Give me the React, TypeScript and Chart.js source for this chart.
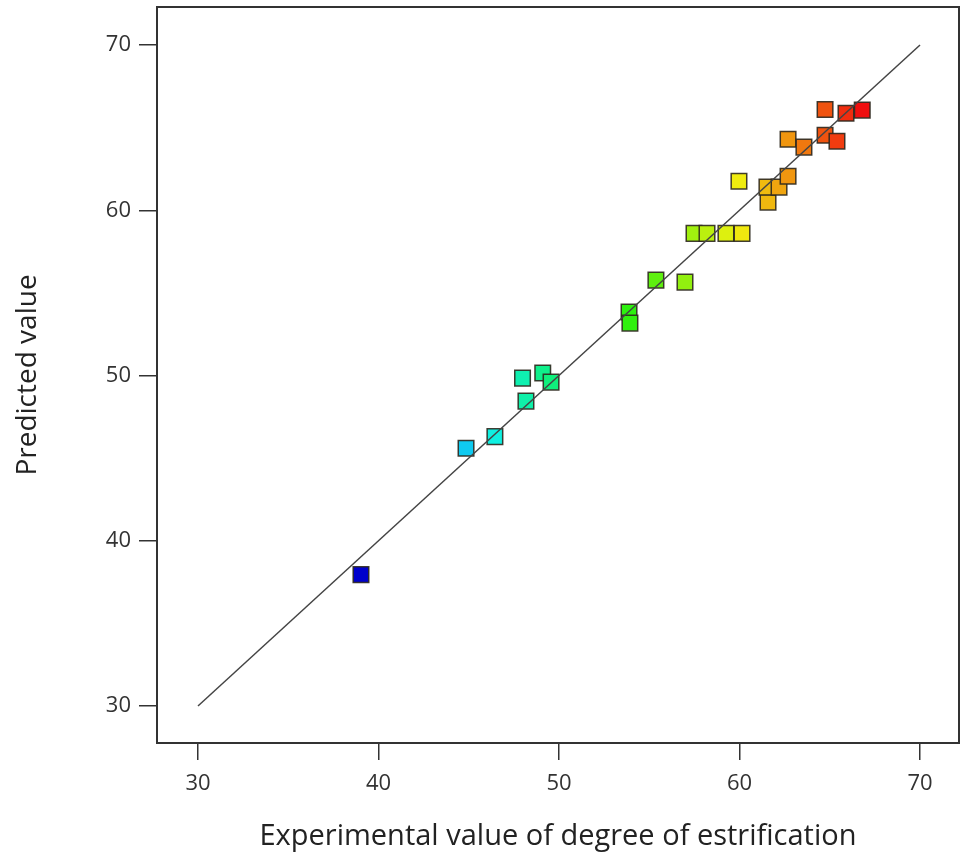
import React, { useEffect, useRef } from "react";
import { Chart, registerables } from "chart.js";

Chart.register(...registerables);

// Experimental (actual) values and model-predicted values
const experimental = [
  39.03, 44.85, 46.45, 47.98, 49.1, 49.56, 48.17, 53.88, 53.93, 55.37, 56.98,
  57.48, 58.2, 59.25, 60.14, 59.97, 61.58, 61.52, 62.19, 62.69, 62.69, 63.57,
  64.74, 65.4, 64.74, 65.9, 66.8,
];
const predicted = [
  37.95, 45.6, 46.3, 49.84, 50.15, 49.6, 48.45, 53.84, 53.17, 55.77, 55.65,
  58.6, 58.6, 58.6, 58.6, 61.76, 60.49, 61.4, 61.4, 62.06, 64.3, 63.82,
  64.54, 64.18, 66.1, 65.87, 66.06,
];
const idealLine = [30, 70];
const tickValues = [30, 40, 50, 60, 70];

const xTitle = "Experimental value of degree of estrification";
const yTitle = "Predicted value";

function colorFor(v: number, lo: number, hi: number): string {
  const t = Math.max(0, Math.min(1, (v - lo) / (hi - lo)));
  const hue = 240 * (1 - t);
  const light = t < 0.05 ? 40 : 50;
  const sat = t < 0.05 ? 100 : 88;
  return `hsl(${hue.toFixed(0)}, ${sat}%, ${light}%)`;
}

function zeroPadding(s: any) {
  s.paddingTop = 0;
  s.paddingBottom = 0;
  s.paddingLeft = 0;
  s.paddingRight = 0;
}

export default function App() {
  const canvasRef = useRef<HTMLCanvasElement | null>(null);

  useEffect(() => {
    if (!canvasRef.current) return;
    const lo = Math.min(...experimental);
    const hi = Math.max(...experimental);
    const points = experimental.map((x, i) => ({ x, y: predicted[i] }));
    const colors = experimental.map((x) => colorFor(x, lo, hi));

    const frame = {
      id: "frame",
      afterDatasetsDraw(chart: any) {
        const { ctx, chartArea } = chart;
        ctx.save();
        ctx.strokeStyle = "#333";
        ctx.lineWidth = 2;
        ctx.strokeRect(
          chartArea.left,
          chartArea.top,
          chartArea.right - chartArea.left,
          chartArea.bottom - chartArea.top
        );
        ctx.restore();
      },
    };

    const chart = new Chart(canvasRef.current, {
      type: "scatter",
      data: {
        datasets: [
          {
            type: "line",
            data: idealLine.map((v) => ({ x: v, y: v })),
            borderColor: "#444",
            borderWidth: 1.5,
            pointRadius: 0,
            order: 1,
          } as any,
          {
            type: "scatter",
            data: points,
            backgroundColor: colors,
            borderColor: "rgba(45,40,30,0.9)",
            borderWidth: 1.5,
            pointStyle: "rect",
            pointRadius: 11,
            order: 2,
          },
        ],
      },
      options: {
        animation: false,
        responsive: false,
        layout: {
          autoPadding: false,
          padding: { top: 7, right: 6, left: 0, bottom: 0 },
        },
        plugins: { legend: { display: false }, tooltip: { enabled: false } },
        scales: {
          x: {
            type: "linear",
            min: 27.73,
            max: 72.16,
            afterBuildTicks: (s: any) => {
              s.ticks = tickValues.map((v) => ({ value: v }));
            },
            afterFit: (s: any) => {
              s.height = 114;
              zeroPadding(s);
            },
            border: { display: false },
            grid: {
              drawOnChartArea: false,
              drawTicks: true,
              tickLength: 17,
              color: "#333",
              lineWidth: 1.5,
            },
            ticks: {
              padding: 11,
              color: "#333",
              font: { family: "Open Sans", size: 22 },
            },
            title: {
              display: true,
              text: xTitle,
              color: "#222",
              font: { family: "Open Sans", size: 29 },
              padding: { top: 0, bottom: 3 },
            },
          },
          y: {
            type: "linear",
            min: 27.76,
            max: 72.3,
            afterBuildTicks: (s: any) => {
              s.ticks = tickValues.map((v) => ({ value: v }));
            },
            afterFit: (s: any) => {
              s.width = 157;
              zeroPadding(s);
            },
            border: { display: false },
            grid: {
              drawOnChartArea: false,
              drawTicks: true,
              tickLength: 18,
              color: "#333",
              lineWidth: 1.5,
            },
            ticks: {
              padding: 8,
              color: "#333",
              font: { family: "Open Sans", size: 22 },
            },
            title: {
              display: true,
              text: yTitle,
              color: "#222",
              font: { family: "Open Sans", size: 28 },
              padding: { top: 11, bottom: 0 },
            },
          },
        },
      },
      plugins: [frame],
    });
    return () => chart.destroy();
  }, []);

  return (
    <div
      style={{
        position: "absolute",
        left: 0,
        top: 0,
        width: 965,
        height: 857,
        background: "#fff",
      }}
    >
      <canvas ref={canvasRef} width={965} height={857} />
    </div>
  );
}
